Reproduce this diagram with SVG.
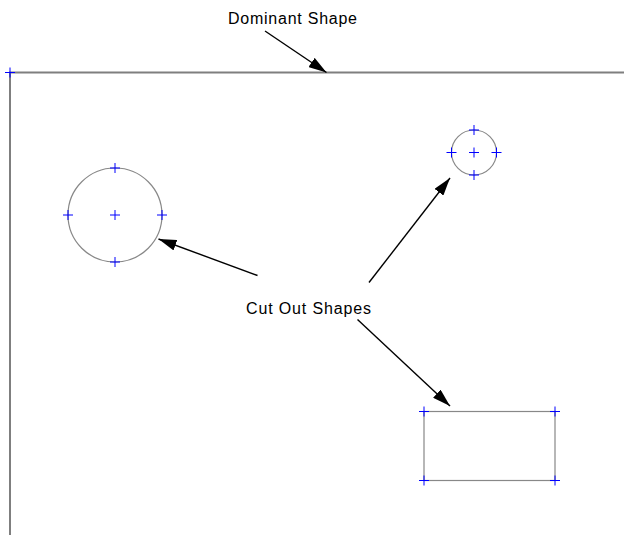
<svg xmlns="http://www.w3.org/2000/svg" width="624" height="535" viewBox="0 0 624 535">
<style>
.shape{fill:none;stroke:#888;stroke-width:1.2}
.dom{fill:none;stroke:#7f7f7f;stroke-width:2}
.cross{stroke:#0000ff;stroke-width:1;fill:none}
.conn{stroke:#000;stroke-width:1.4;fill:none;marker-end:url(#ah)}
.lbl{font-family:"Liberation Sans",Arial,sans-serif;font-size:16px;fill:#000}
</style>
<defs>
<marker id="ah" viewBox="0 0 18 11" refX="18" refY="5.5" markerWidth="18" markerHeight="11" markerUnits="userSpaceOnUse" orient="auto">
<path d="M0,0 L18,5.5 L0,11 Z" fill="#000"/>
</marker>
<path id="x" d="M-5,0 H5 M0,-5 V5" class="cross"/>
</defs>
<rect width="624" height="535" fill="#fff"/>
<g id="dominant">
<path class="dom" d="M10,535 V72.5 H624"/>
<use href="#x" x="10" y="72.5"/>
</g>
<g id="circle-large">
<circle class="shape" cx="115" cy="215" r="47"/>
<use href="#x" x="115" y="215"/>
<use href="#x" x="115" y="168"/>
<use href="#x" x="115" y="262"/>
<use href="#x" x="68" y="215"/>
<use href="#x" x="162" y="215"/>
</g>
<g id="circle-small">
<circle class="shape" cx="474" cy="152.5" r="22.5"/>
<use href="#x" x="474" y="152.5"/>
<use href="#x" x="474" y="130"/>
<use href="#x" x="474" y="175"/>
<use href="#x" x="451.5" y="152.5"/>
<use href="#x" x="496.5" y="152.5"/>
</g>
<g id="rectangle">
<rect class="shape" x="424" y="411.5" width="131" height="69"/>
<use href="#x" x="424" y="411.5"/>
<use href="#x" x="555" y="411.5"/>
<use href="#x" x="424" y="480.5"/>
<use href="#x" x="555" y="480.5"/>
</g>
<g id="label-dominant">
<text class="lbl" x="228" y="24" textLength="129" lengthAdjust="spacing">Dominant Shape</text>
</g>
<g id="label-cutout">
<text class="lbl" x="246" y="313.5" textLength="125" lengthAdjust="spacing">Cut Out Shapes</text>
</g>
<g id="connectors">
<line class="conn" x1="265" y1="31" x2="326.5" y2="72.5"/>
<line class="conn" x1="257.5" y1="275.5" x2="158.5" y2="239"/>
<line class="conn" x1="369" y1="282.5" x2="450" y2="178"/>
<line class="conn" x1="357.5" y1="319.5" x2="450" y2="406"/>
</g>
</svg>
